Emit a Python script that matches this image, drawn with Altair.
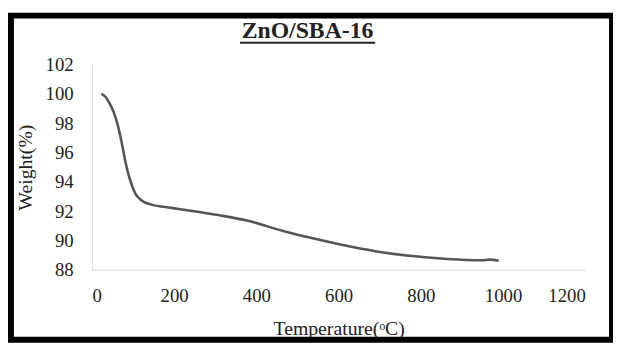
import altair as alt
import pandas as pd

temperature = [23, 33, 43, 53, 63, 73, 82, 93, 105, 121, 145, 193, 257, 313, 377,
               465, 545, 625, 705, 785, 865, 945, 969, 989]
weight = [100.0, 99.8, 99.35, 98.75, 97.85, 96.6, 95.3, 94.12, 93.23, 92.73, 92.44,
          92.22, 91.95, 91.70, 91.36, 90.64, 90.09, 89.60, 89.19, 88.92, 88.74,
          88.65, 88.69, 88.61]
x_ticks = [0, 200, 400, 600, 800, 1000, 1200]
y_ticks = [88, 90, 92, 94, 96, 98, 100, 102]
title_text = "ZnO/SBA-16"

df = pd.DataFrame({"T": temperature, "W": weight})
FONT = "Liberation Serif"

line = alt.Chart(df).mark_line(color="#555555", strokeWidth=2.6, interpolate="monotone").encode(
    x=alt.X("T:Q", scale=alt.Scale(domain=[0, 1200], nice=False),
            axis=alt.Axis(values=x_ticks, format="d", title="Temperature(ᵒC)", grid=False, ticks=False,
                          domainColor="#d9d9d9", labelFont=FONT, labelFontSize=19,
                          labelColor="#222222", labelPadding=17, titleFont=FONT,
                          titleFontSize=20, titleFontWeight="normal", titleColor="#222222",
                          titlePadding=14)),
    y=alt.Y("W:Q", scale=alt.Scale(domain=[88, 102], nice=False, zero=False),
            axis=alt.Axis(values=y_ticks, format="d", title="Weight(%)", grid=False, ticks=False,
                          domainColor="#d9d9d9", labelFont=FONT, labelFontSize=19,
                          labelColor="#222222", labelPadding=19, titleFont=FONT,
                          titleFontSize=20, titleFontWeight="normal", titleColor="#222222",
                          titlePadding=10)),
)

title_df = pd.DataFrame({"t": [title_text]})
title = alt.Chart(title_df).mark_text(font=FONT, fontSize=24, fontWeight="bold",
                                      color="#222222", align="center", baseline="alphabetic").encode(
    text="t:N", x=alt.value(218.5), y=alt.value(-26.5))
underline = alt.Chart(title_df).mark_rule(color="#222222", strokeWidth=2).encode(
    x=alt.value(150), x2=alt.value(287), y=alt.value(-22))
border = alt.Chart(title_df).mark_rect(fill=None, stroke="black", strokeWidth=6).encode(
    x=alt.value(-82), x2=alt.value(527), y=alt.value(-49.5), y2=alt.value(279))

chart = alt.layer(line, title, underline, border).properties(
    width=500, height=208,
    autosize=alt.AutoSizeParams(type="none"),
    padding={"left": 85, "top": 55, "right": 28, "bottom": 73},
    background="white",
).configure(font=FONT).configure_view(stroke=None)

chart.save("out.html", embed_options={"renderer": "svg", "actions": False})
